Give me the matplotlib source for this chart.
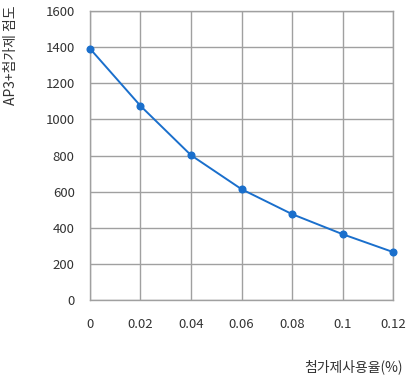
import matplotlib
matplotlib.use('Agg')
import matplotlib.pyplot as plt
import numpy as np

plt.rcParams['font.family'] = ['Noto Sans CJK KR', 'DejaVu Sans']

# data
usage_rate = [0, 0.02, 0.04, 0.06, 0.08, 0.1, 0.12]
viscosity = [1392, 1075, 802, 614, 476, 365, 266]
x_ticks = [0, 0.02, 0.04, 0.06, 0.08, 0.1, 0.12]
x_tick_labels = ['0', '0.02', '0.04', '0.06', '0.08', '0.1', '0.12']
y_ticks = [0, 200, 400, 600, 800, 1000, 1200, 1400, 1600]

fig = plt.figure(figsize=(4.07, 3.79), dpi=100)
ax = fig.add_axes([0.221, 0.208, 0.745, 0.763])

grid_col = '#a0a0a0'
text_col = '#333333'

ax.plot(usage_rate, viscosity, color='#1a6fcc', linewidth=1.4,
        marker='o', markersize=4.8, zorder=3, clip_on=False)

ax.set_xlim(0, 0.12)
ax.set_ylim(0, 1600)
ax.set_xticks(x_ticks)
ax.set_xticklabels(x_tick_labels)
ax.set_yticks(y_ticks)
ax.grid(True, color=grid_col, linewidth=1.0)
for s in ax.spines.values():
    s.set_color(grid_col)
    s.set_linewidth(1.0)
ax.tick_params(axis='both', length=0, labelsize=9.5, colors=text_col)
ax.tick_params(axis='x', pad=13)
ax.tick_params(axis='y', pad=11)

fig.text(0.027, 0.985, 'AP3+첨가제 점도', rotation=90, ha='center', va='top',
         fontsize=10, color=text_col)
fig.text(0.99, 0.012, '첨가제사용율(%)', ha='right', va='bottom',
         fontsize=10, color=text_col)

fig.savefig('out.png', dpi=100)
